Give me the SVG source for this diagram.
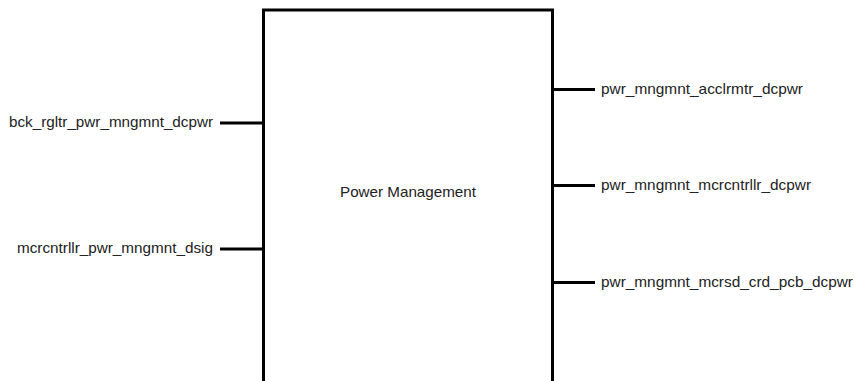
<svg xmlns="http://www.w3.org/2000/svg" width="854" height="381" viewBox="0 0 854 381">
<style>
text{font-family:"Liberation Sans",Arial,sans-serif;font-size:14.5px;fill:#222}
.box{fill:#fff;stroke:#000;stroke-width:3}
.c{stroke:#000;stroke-width:3;fill:none}
</style>
<rect width="854" height="381" fill="#fff"/>
<g id="power-management">
<rect class="box" x="263.5" y="10" width="289" height="380"/>
<text x="340" y="197" textLength="136" lengthAdjust="spacingAndGlyphs">Power Management</text>
</g>
<g id="connectors">
<line class="c" x1="220" y1="123" x2="263.5" y2="123"/>
<line class="c" x1="220" y1="249" x2="263.5" y2="249"/>
<line class="c" x1="552.5" y1="89.5" x2="595" y2="89.5"/>
<line class="c" x1="552.5" y1="185.5" x2="595" y2="185.5"/>
<line class="c" x1="552.5" y1="282.5" x2="595" y2="282.5"/>
</g>
<g id="port-bck">
<text x="9" y="127" textLength="204" lengthAdjust="spacingAndGlyphs">bck_rgltr_pwr_mngmnt_dcpwr</text>
</g>
<g id="port-mcrcntrllr-in">
<text x="17" y="253" textLength="196" lengthAdjust="spacingAndGlyphs">mcrcntrllr_pwr_mngmnt_dsig</text>
</g>
<g id="port-acclrmtr">
<text x="601" y="93.5" textLength="202" lengthAdjust="spacingAndGlyphs">pwr_mngmnt_acclrmtr_dcpwr</text>
</g>
<g id="port-mcrcntrllr-out">
<text x="601" y="189.5" textLength="210" lengthAdjust="spacingAndGlyphs">pwr_mngmnt_mcrcntrllr_dcpwr</text>
</g>
<g id="port-mcrsd">
<text x="601" y="286.5" textLength="252" lengthAdjust="spacingAndGlyphs">pwr_mngmnt_mcrsd_crd_pcb_dcpwr</text>
</g>
</svg>
